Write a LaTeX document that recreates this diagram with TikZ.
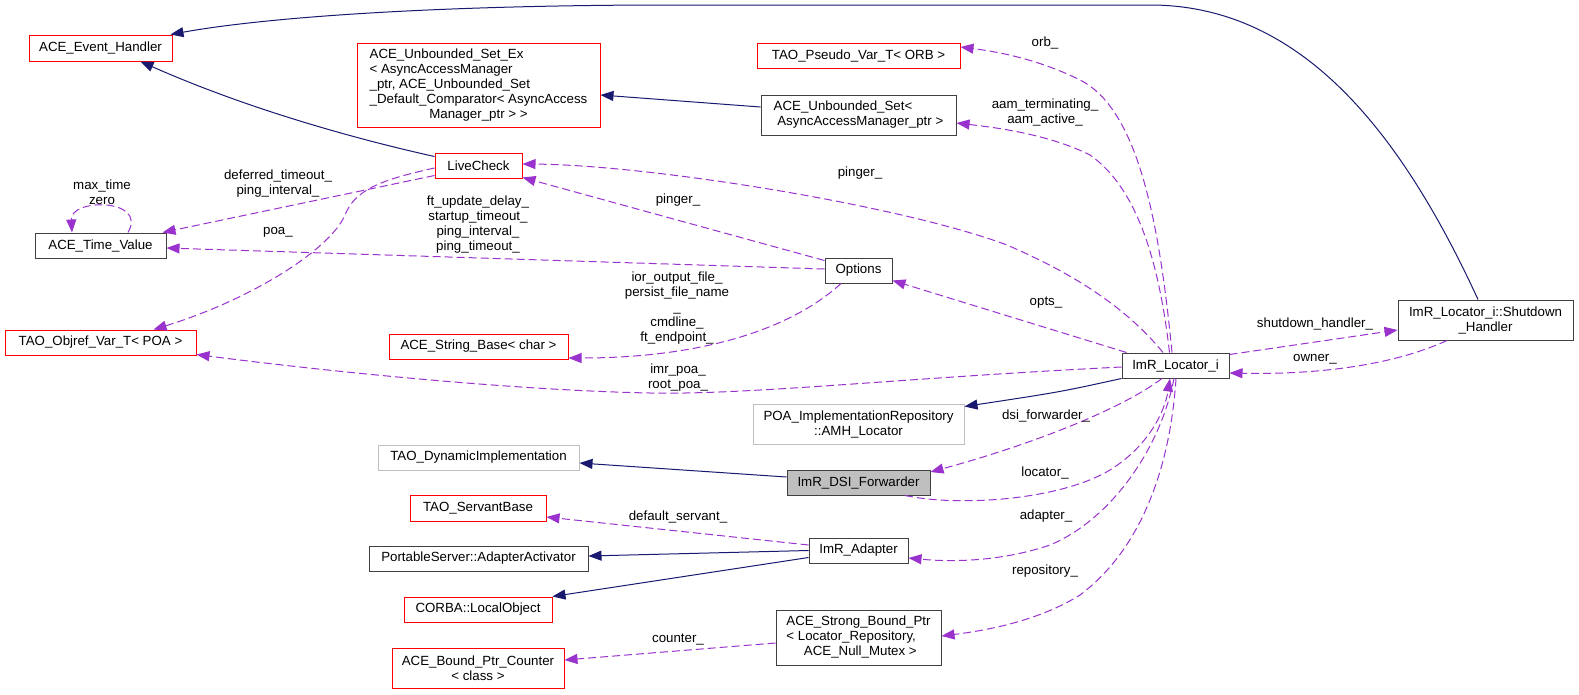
\documentclass[tikz,border=0pt]{standalone}
\usepackage{fontspec}
\setmainfont{Liberation Sans}
\usetikzlibrary{arrows.meta,calc}
\definecolor{edgeblue}{HTML}{191970}
\definecolor{edgepurple}{HTML}{9A32CD}
\definecolor{boxgray}{HTML}{BFBFBF}
\definecolor{boxred}{HTML}{FF0000}
\definecolor{boxblack}{HTML}{404040}
\newcommand{\dfont}{\fontsize{13.3pt}{15pt}\selectfont}
\begin{document}
\begin{tikzpicture}[x=1pt,y=-1pt,
  box/.style={draw, rectangle, inner sep=0pt, line width=1pt, font=\dfont, align=center},
  redbox/.style={box, draw=boxred},
  blkbox/.style={box, draw=boxblack},
  grybox/.style={box, draw=boxgray},
  inh/.style={draw=edgeblue, line width=1pt, -{Triangle[length=13pt,width=10pt]}},
  use/.style={draw=edgepurple, line width=1pt, dash pattern=on 8pt off 4pt, -{Triangle[length=13pt,width=10pt]}},
  lbl/.style={inner sep=0pt, font=\dfont, align=center}]
\useasboundingbox[fill=white] (0,0) rectangle (1579,694);

% nodes
\node[redbox, minimum width=143, minimum height=26] (eh) at (100.5,48) {ACE\_Event\_Handler};
\node[redbox, minimum width=243, minimum height=84] (usetex) at (478.5,85) {\begin{tabular}{@{}l@{}}ACE\_Unbounded\_Set\_Ex\\< AsyncAccessManager\\\_ptr, ACE\_Unbounded\_Set\\\_Default\_Comparator< AsyncAccess\\\multicolumn{1}{@{}c@{}}{Manager\_ptr > >}\end{tabular}};
\node[redbox, minimum width=87, minimum height=25] (lc) at (478.5,165.5) {LiveCheck};
\node[blkbox, minimum width=131, minimum height=25] (tv) at (100.5,245.5) {ACE\_Time\_Value};
\node[redbox, minimum width=203, minimum height=25] (pv) at (858.5,55.5) {TAO\_Pseudo\_Var\_T< ORB >};
\node[blkbox, minimum width=195, minimum height=40] (us) at (858.5,115) {\begin{tabular}{@{}l@{}}ACE\_Unbounded\_Set<\\\multicolumn{1}{@{}c@{}}{\ AsyncAccessManager\_ptr >}\end{tabular}};
\node[blkbox, minimum width=67, minimum height=25] (opt) at (858.5,270.5) {Options};
\node[redbox, minimum width=191, minimum height=25] (ov) at (100.5,342.5) {TAO\_Objref\_Var\_T< POA >};
\node[redbox, minimum width=179, minimum height=25] (sb) at (478.5,346.5) {ACE\_String\_Base< char >};
\node[blkbox, minimum width=175, minimum height=40] (sh) at (1485.5,320) {ImR\_Locator\_i::Shutdown\\\_Handler};
\node[blkbox, minimum width=107, minimum height=25] (imr) at (1175.5,365.5) {ImR\_Locator\_i};
\node[grybox, minimum width=211, minimum height=40] (amh) at (858.5,424) {POA\_ImplementationRepository\\::AMH\_Locator};
\node[grybox, minimum width=201, minimum height=25] (tdi) at (478.5,457.5) {TAO\_DynamicImplementation};
\node[blkbox, fill=boxgray, minimum width=143, minimum height=25] (dsi) at (858.5,482.5) {ImR\_DSI\_Forwarder};
\node[redbox, minimum width=136, minimum height=26] (tsb) at (478,508) {TAO\_ServantBase};
\node[blkbox, minimum width=99, minimum height=25] (ad) at (858.5,550.5) {ImR\_Adapter};
\node[blkbox, minimum width=219, minimum height=25] (paa) at (478.5,558.5) {PortableServer::AdapterActivator};
\node[redbox, minimum width=148, minimum height=25] (clo) at (478,609.5) {CORBA::LocalObject};
\node[blkbox, minimum width=165, minimum height=55] (sbp) at (858.5,637.5) {\begin{tabular}{@{}l@{}}ACE\_Strong\_Bound\_Ptr\\< Locator\_Repository,\\\multicolumn{1}{@{}c@{}}{\ ACE\_Null\_Mutex >}\end{tabular}};
\node[redbox, minimum width=172, minimum height=40] (bpc) at (478,668) {ACE\_Bound\_Ptr\_Counter\\< class >};

% inheritance edges
\draw[inh] ($(lc.north west)+(0,4)$) .. controls (360,140) and (250,110) .. ($(eh.south)+(40,0)$);
\draw[inh] ($(sh.north)+(-7.5,0)$) .. controls (1400,130) and (1300,5) .. (1150,5) -- (650,5) .. controls (400,6) and (250,20) .. ($(eh.north east)+(-2,0)$);
\draw[inh] ($(us.west)+(0,-8)$) -- ($(usetex.east)+(0,10)$);
\draw[inh] (imr.south west) .. controls (1060,392) .. ($(amh.north east)+(0,3)$);
\draw[inh] ($(dsi.west)+(0,-5.5)$) -- ($(tdi.east)+(0,5.5)$);
\draw[inh] (ad.west) -- ($(paa.east)+(0,-2.5)$);
\draw[inh] ($(ad.west)+(0,7)$) -- (clo.north east);

% usage edges
\draw[use] ($(tv.north)+(27.5,0)$) .. controls (148,198) and (70,198) .. ($(tv.north)+(-28.5,0)$);
\draw[use] ($(lc.south west)+(0,-3)$) -- ($(tv.north east)+(-4,0)$);
\draw[use] ($(lc.west)+(0,2.5)$) .. controls (380,180) and (355,190) .. (345,215) .. controls (330,250) and (250,300) .. ($(ov.north)+(53,0)$);
\draw[use] ($(opt.west)+(0,-1.5)$) -- ($(tv.east)+(0,2.5)$);
\draw[use] ($(opt.north west)+(0,3)$) -- ($(lc.south east)+(0,-1)$);
\draw[use] ($(imr.north)+(-12.5,0)$) .. controls (1120,300) and (1060,268) .. (1007,245) .. controls (900,205) and (650,165) .. ($(lc.east)+(0,-1.5)$);
\draw[use] ($(imr.north)+(-3.5,0)$) .. controls (1160,230) and (1140,110) .. (1080,80) .. controls (1040,60) and (1000,52) .. ($(pv.east)+(0,-8.5)$);
\draw[use] ($(imr.north)+(-6,0)$) .. controls (1160,270) and (1140,190) .. (1090,155) .. controls (1050,135) and (1000,128) .. ($(us.east)+(0,8)$);
\draw[use] ($(imr.north west)+(5,0)$) -- ($(opt.south east)+(0,-3)$);
\draw[use] ($(opt.south)+(-17.5,0)$) .. controls (790,330) and (700,358) .. ($(sb.east)+(0,11.5)$);
\draw[use] ($(imr.west)+(0,1.5)$) .. controls (900,378) and (750,395) .. (650,393) .. controls (500,390) and (300,368) .. ($(ov.south east)+(0,-1)$);
\draw[use] ($(imr.north east)+(0,2)$) -- ($(sh.west)+(0,10)$);
\draw[use] ($(sh.south)+(-38.5,0)$) .. controls (1400,362) and (1330,375) .. ($(imr.east)+(0,7.5)$);
\draw[use] ($(imr.south)+(-13.5,0)$) .. controls (1120,410) and (1030,445) .. ($(dsi.east)+(0,-10.5)$);
\draw[use] ($(dsi.south)+(46.5,0)$) .. controls (960,507) and (1060,500) .. (1110,470) .. controls (1150,445) and (1165,410) .. ($(imr.south)+(-5.5,0)$);
\draw[use] ($(imr.south)+(-1.5,0)$) .. controls (1160,450) and (1110,520) .. (1050,545) .. controls (1000,562) and (950,562) .. ($(ad.east)+(0,7.5)$);
\draw[use] ($(imr.south)+(0.5,0)$) .. controls (1170,470) and (1140,550) .. (1080,595) .. controls (1040,620) and (990,630) .. ($(sbp.east)+(0,-1.5)$);
\draw[use] ($(ad.west)+(0,-5.5)$) -- ($(tsb.east)+(0,9)$);
\draw[use] ($(sbp.west)+(0,5.5)$) -- ($(bpc.east)+(0,-8)$);

% labels
\node[lbl] (lmax) at (102,192) {max\_time\\zero};
\node[lbl] (ldef) at (278,184) {deferred\_timeout\_\\ping\_interval\_};
\node[lbl] (lpoa) at (278,232) {poa\_};
\node[lbl] (lft) at (478,225) {ft\_update\_delay\_\\startup\_timeout\_\\ping\_interval\_\\ping\_timeout\_};
\node[lbl] (lping1) at (678,200) {pinger\_};
\node[lbl] (lping2) at (860,173) {pinger\_};
\node[lbl] (lorb) at (1045,43) {orb\_};
\node[lbl] (laam) at (1045,112) {aam\_terminating\_\\aam\_active\_};
\node[lbl] (lopts) at (1046,303) {opts\_};
\node[lbl] (lior) at (677,308) {ior\_output\_file\_\\persist\_file\_name\\\_\\cmdline\_\\ft\_endpoint\_};
\node[lbl] (limr) at (678,378) {imr\_poa\_\\root\_poa\_};
\node[lbl] (lsh) at (1315,324) {shutdown\_handler\_};
\node[lbl] (lown) at (1315,359) {owner\_};
\node[lbl] (ldsi) at (1046,416) {dsi\_forwarder\_};
\node[lbl] (lloc) at (1045,473) {locator\_};
\node[lbl] (lad) at (1046,516) {adapter\_};
\node[lbl] (lrep) at (1045,571) {repository\_};
\node[lbl] (ldef2) at (678,517) {default\_servant\_};
\node[lbl] (lcnt) at (678,640) {counter\_};
\end{tikzpicture}
\end{document}
